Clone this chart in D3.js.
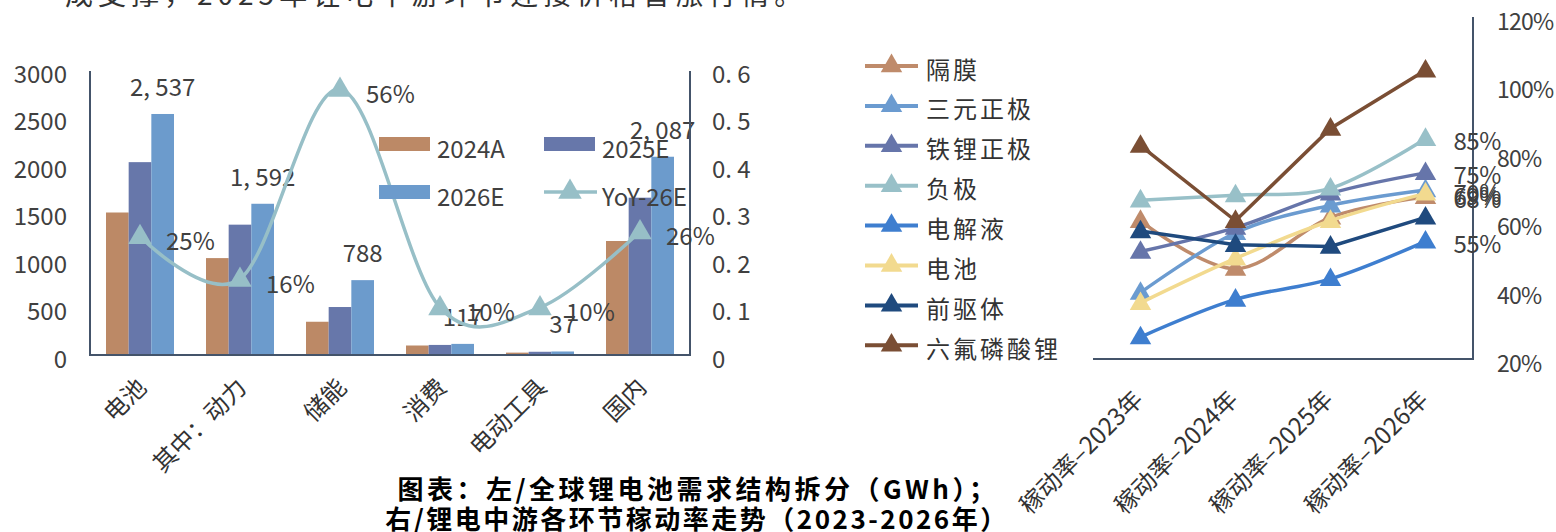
<!DOCTYPE html>
<html>
<head>
<meta charset="utf-8">
<script src="https://cdn.jsdelivr.net/npm/d3@7/dist/d3.min.js"></script>
<style>
  html, body { margin: 0; padding: 0; background: #fff; }
  svg { display: block; font-family: "Noto Sans CJK SC", "Noto Sans", sans-serif; }
</style>
</head>
<body>
<svg id="chart" width="1556" height="532"></svg>
<script>
// ---- left panel: global lithium battery demand (GWh) ----
const demandCategories = ["电池", "其中：动力", "储能", "消费", "电动工具", "国内"];
const demandSeries = ["2024A", "2025E", "2026E"];
const demand2024A = [1500, 1020, 350, 100, 25, 1200];
const demand2025E = [2030, 1372, 505, 106, 34, 1656];
const demand2026E = [2537, 1592, 788, 117, 37, 2087];
const yoy26E = [0.25, 0.16, 0.56, 0.10, 0.10, 0.26];
const leftTicks = [0, 500, 1000, 1500, 2000, 2500, 3000];
const rightTicks = [0, 0.1, 0.2, 0.3, 0.4, 0.5, 0.6];

// ---- right panel: utilisation rate by segment ----
const rateYears = ["稼动率–2023年", "稼动率–2024年", "稼动率–2025年", "稼动率–2026年"];
const rateSeriesNames = ["隔膜", "三元正极", "铁锂正极", "负极", "电解液", "电池", "前驱体", "六氟磷酸锂"];
const rateSeparator = [0.61, 0.47, 0.62, 0.68];
const rateNCM = [0.40, 0.575, 0.655, 0.70];
const rateLFP = [0.52, 0.59, 0.69, 0.75];
const rateAnode = [0.67, 0.685, 0.705, 0.85];
const rateElectrolyte = [0.27, 0.38, 0.44, 0.55];
const rateBattery = [0.37, 0.50, 0.61, 0.69];
const ratePrecursor = [0.58, 0.54, 0.535, 0.62];
const rateLiPF6 = [0.83, 0.61, 0.88, 1.05];
const rateTicks = [0.2, 0.4, 0.6, 0.8, 1.0, 1.2];

const svg = d3.select("#chart");
const textColor = "#404040";
const axisColor = "#44546A";

// partially visible line of body text at the top edge
svg.append("text")
  .attr("x", 65).attr("y", 5)
  .attr("font-size", 28).attr("letter-spacing", 5)
  .attr("fill", "#333")
  .text("成支撑，2025年锂电中游环节迎接价格普涨行情。");

// ================= LEFT PANEL =================
const barColors = { "2024A": "#BC8966", "2025E": "#6777AA", "2026E": "#6C9BCC" };
const yoyColor = "#97BFC7";
const demandValues = { "2024A": demand2024A, "2025E": demand2025E, "2026E": demand2026E };

const xL = d3.scaleBand().domain(demandCategories).range([90, 690])
  .paddingInner(0.32).paddingOuter(0.16);
const xSub = d3.scaleBand().domain(demandSeries).range([0, xL.bandwidth()]);
const yL = d3.scaleLinear().domain([0, 3000]).range([355, 70]);
const yR = d3.scaleLinear().domain([0, 0.6]).range([355, 70]);

const left = svg.append("g");

// bars
demandSeries.forEach(s => {
  left.append("g").selectAll("rect")
    .data(demandCategories.map((c, i) => ({ c, v: demandValues[s][i] })))
    .join("rect")
    .attr("x", d => xL(d.c) + xSub(s))
    .attr("y", d => yL(d.v))
    .attr("width", xSub.bandwidth())
    .attr("height", d => yL(0) - yL(d.v))
    .attr("fill", barColors[s]);
});

// value labels on 2026E bars
const fmtComma = v => d3.format(",")(v).replace(",", ", ");
left.append("g").selectAll("text")
  .data(demandCategories.map((c, i) => ({ c, v: demand2026E[i] })))
  .join("text")
  .attr("x", d => xL(d.c) + xSub("2026E") + xSub.bandwidth() / 2)
  .attr("y", d => yL(d.v) - 18)
  .attr("text-anchor", "middle")
  .attr("font-size", 24).attr("fill", textColor)
  .text(d => fmtComma(d.v));

// axes (lines)
left.append("line").attr("x1", 90).attr("x2", 90).attr("y1", 71).attr("y2", 355)
  .attr("stroke", axisColor).attr("stroke-width", 2);
left.append("line").attr("x1", 690).attr("x2", 690).attr("y1", 71).attr("y2", 355)
  .attr("stroke", axisColor).attr("stroke-width", 2);
left.append("line").attr("x1", 89).attr("x2", 691).attr("y1", 355).attr("y2", 355)
  .attr("stroke", axisColor).attr("stroke-width", 2);

// left tick labels
left.append("g").selectAll("text").data(leftTicks).join("text")
  .attr("x", 67).attr("y", d => yL(d) + 2)
  .attr("dominant-baseline", "central").attr("text-anchor", "end")
  .attr("font-size", 24).attr("fill", textColor)
  .text(d => d);

// right tick labels
left.append("g").selectAll("text").data(rightTicks).join("text")
  .attr("x", 712).attr("y", d => yR(d) + 2)
  .attr("dominant-baseline", "central").attr("text-anchor", "start")
  .attr("font-size", 24).attr("fill", textColor)
  .text(d => d === 0 ? "0" : d3.format(".1f")(d).replace(".", ". "));

// category labels, rotated
left.append("g").selectAll("text").data(demandCategories).join("text")
  .attr("transform", d => `translate(${xL(d) + xL.bandwidth() / 2 + 2},383) rotate(-45)`)
  .attr("text-anchor", "end").attr("dy", "0.35em")
  .attr("font-size", 24).attr("fill", "#333")
  .text(d => d);

// YoY smoothed line with triangle markers
const yoyPts = demandCategories.map((c, i) => ({ c, v: yoy26E[i] }));
const yoyLine = d3.line()
  .x(d => xL(d.c) + xL.bandwidth() / 2)
  .y(d => yR(d.v))
  .curve(d3.curveCardinal.tension(0));
left.append("path").datum(yoyPts).attr("d", yoyLine)
  .attr("fill", "none").attr("stroke", yoyColor).attr("stroke-width", 3.5);
const bigTri = d3.symbol(d3.symbolTriangle, 240);
left.append("g").selectAll("path").data(yoyPts).join("path")
  .attr("transform", d => `translate(${xL(d.c) + xL.bandwidth() / 2},${yR(d.v) + 1})`)
  .attr("d", bigTri).attr("fill", yoyColor);
left.append("g").selectAll("text").data(yoyPts).join("text")
  .attr("x", d => xL(d.c) + xL.bandwidth() / 2 + 26)
  .attr("y", d => yR(d.v) + 3)
  .attr("dominant-baseline", "central")
  .attr("font-size", 24).attr("fill", textColor)
  .text(d => d3.format(".0%")(d.v));

// legend
const legendL = left.append("g");
const legendItems = [
  { name: "2024A", x: 379, y: 144, type: "bar", color: barColors["2024A"] },
  { name: "2025E", x: 544, y: 144, type: "bar", color: barColors["2025E"] },
  { name: "2026E", x: 379, y: 192, type: "bar", color: barColors["2026E"] },
  { name: "YoY-26E", x: 544, y: 192, type: "line", color: yoyColor }
];
legendItems.forEach(it => {
  if (it.type === "bar") {
    legendL.append("rect").attr("x", it.x).attr("y", it.y - 7)
      .attr("width", 51).attr("height", 14).attr("fill", it.color);
  } else {
    legendL.append("line").attr("x1", it.x).attr("x2", it.x + 53)
      .attr("y1", it.y).attr("y2", it.y)
      .attr("stroke", it.color).attr("stroke-width", 3.5);
    legendL.append("path").attr("transform", `translate(${it.x + 26},${it.y})`)
      .attr("d", bigTri).attr("fill", it.color);
  }
  legendL.append("text").attr("x", it.x + 58).attr("y", it.y + 3)
    .attr("dominant-baseline", "central")
    .attr("font-size", 24).attr("fill", textColor)
    .text(it.name);
});

// ================= RIGHT PANEL =================
const rateColors = ["#BF8B6B", "#6B9BD0", "#6675AA", "#98C0C8", "#3E7ECF", "#F2DA8F", "#1F4A7E", "#7A4E34"];
const rateValues = [rateSeparator, rateNCM, rateLFP, rateAnode, rateElectrolyte, rateBattery, ratePrecursor, rateLiPF6];
const smoothed = new Set(["隔膜", "三元正极", "铁锂正极", "负极", "电解液", "电池"]);
const labelled = new Set(["隔膜", "三元正极", "铁锂正极", "负极", "电解液", "电池"]);

const xP = d3.scalePoint().domain(rateYears).range([1093, 1473]).padding(0.5);
const yP = d3.scaleLinear().domain([0.2, 1.2]).range([361, 19]);

const right = svg.append("g");

right.append("line").attr("x1", 1093).attr("x2", 1474).attr("y1", 359).attr("y2", 359)
  .attr("stroke", axisColor).attr("stroke-width", 2);
right.append("line").attr("x1", 1473).attr("x2", 1473).attr("y1", 17).attr("y2", 359)
  .attr("stroke", axisColor).attr("stroke-width", 2);

right.append("g").selectAll("text").data(rateTicks).join("text")
  .attr("x", 1497).attr("y", d => yP(d) + 1)
  .attr("dominant-baseline", "central")
  .attr("font-size", 23).attr("letter-spacing", -0.8).attr("fill", textColor)
  .text(d => d3.format(".0%")(d));

right.append("g").selectAll("text").data(rateYears).join("text")
  .attr("transform", d => `translate(${xP(d) - 2},395) rotate(-45)`)
  .attr("text-anchor", "end").attr("dy", "0.35em")
  .attr("font-size", 24).attr("fill", "#333")
  .text(d => d);

const smallTri = d3.symbol(d3.symbolTriangle, 200);
rateSeriesNames.forEach((name, si) => {
  const pts = rateYears.map((y, i) => ({ y, v: rateValues[si][i] }));
  const line = d3.line().x(d => xP(d.y)).y(d => yP(d.v))
    .curve(smoothed.has(name) ? d3.curveCardinal.tension(0) : d3.curveLinear);
  const g = right.append("g");
  g.append("path").datum(pts).attr("d", line)
    .attr("fill", "none").attr("stroke", rateColors[si]).attr("stroke-width", 3.5);
  g.selectAll("path.m").data(pts).join("path").attr("class", "m")
    .attr("transform", d => `translate(${xP(d.y)},${yP(d.v) + 1})`)
    .attr("d", smallTri).attr("fill", rateColors[si]);
  if (labelled.has(name)) {
    const last = pts[pts.length - 1];
    g.append("text").attr("x", xP(last.y) + 28).attr("y", yP(last.v) + 1)
      .attr("dominant-baseline", "central")
      .attr("font-size", 24).attr("letter-spacing", -0.5).attr("fill", textColor)
      .text(d3.format(".0%")(last.v));
  }
});

// legend
const legendR = right.append("g");
rateSeriesNames.forEach((name, i) => {
  const cy = 66 + i * 39.9;
  legendR.append("line").attr("x1", 865).attr("x2", 918).attr("y1", cy).attr("y2", cy)
    .attr("stroke", rateColors[i]).attr("stroke-width", 4);
  legendR.append("path").attr("transform", `translate(891.5,${cy})`)
    .attr("d", smallTri).attr("fill", rateColors[i]);
  legendR.append("text").attr("x", 926).attr("y", cy + 2)
    .attr("dominant-baseline", "central")
    .attr("font-size", 24).attr("letter-spacing", 3).attr("fill", "#333")
    .text(name);
});

// ================= CAPTION =================
const caption = svg.append("g").attr("font-weight", "bold").attr("fill", "#000")
  .attr("font-size", 26).attr("text-anchor", "middle");
caption.append("text").attr("x", 698).attr("y", 487).attr("dominant-baseline", "central")
  .attr("letter-spacing", 3.5).text("图表：左/全球锂电池需求结构拆分（GWh）；");
caption.append("text").attr("x", 697).attr("y", 517).attr("dominant-baseline", "central")
  .attr("letter-spacing", 2.5).text("右/锂电中游各环节稼动率走势（2023-2026年）");
</script>
</body>
</html>
